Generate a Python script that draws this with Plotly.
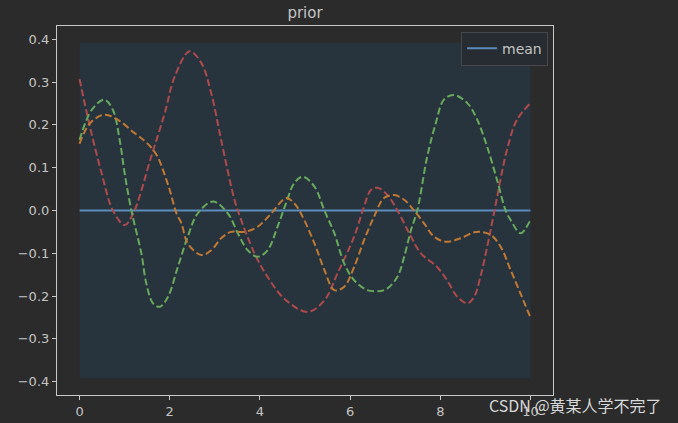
import plotly.graph_objects as go

# ---- data ----
band_x = [0, 10]
band_upper = [0.392, 0.392]
band_lower = [-0.392, -0.392]

mean_x = [0, 10]
mean_y = [0.0, 0.0]

red_x = [0.0, 0.23, 0.49, 0.74, 1.0, 1.19, 1.59, 1.89, 2.11, 2.44, 2.70, 2.92, 3.14, 3.40, 3.51, 3.88, 4.17, 4.54, 5.06, 5.43,
         5.72, 6.09, 6.31, 6.46, 6.61, 6.83, 7.05, 7.35, 7.57, 7.93, 8.15, 8.38, 8.60, 8.75, 8.89, 9.04, 9.19, 9.48, 9.70, 10.0]
red_y = [0.307, 0.196, 0.087, 0.0, -0.034, -0.007, 0.126, 0.228, 0.313, 0.372, 0.345, 0.274, 0.165, 0.040, 0.0, -0.10, -0.155, -0.206, -0.237, -0.21,
         -0.147, -0.061, 0.009, 0.048, 0.053, 0.036, 0.0, -0.061, -0.10, -0.132, -0.163, -0.202, -0.217, -0.202, -0.155, -0.085, -0.007, 0.142, 0.212, 0.251]

green_x = [0.0, 0.27, 0.55, 0.74, 0.89, 1.0, 1.15, 1.37, 1.48, 1.63, 1.78, 1.96, 2.18, 2.40, 2.62, 2.96, 3.29, 3.51, 3.73, 3.95,
           4.17, 4.39, 4.58, 4.76, 4.95, 5.21, 5.43, 5.65, 5.87, 6.09, 6.38, 6.68, 6.83, 7.05, 7.20, 7.35, 7.49, 7.71, 7.90, 8.08,
           8.30, 8.60, 8.82, 9.04, 9.26, 9.45, 9.56, 9.78, 10.0]
green_y = [0.165, 0.235, 0.259, 0.235, 0.165, 0.087, 0.0, -0.10, -0.17, -0.217, -0.225, -0.202, -0.132, -0.061, -0.007, 0.021, -0.007, -0.053, -0.093, -0.108,
           -0.093, -0.038, 0.017, 0.064, 0.079, 0.056, 0.0, -0.053, -0.124, -0.163, -0.186, -0.188, -0.182, -0.155, -0.108, -0.046, 0.0, 0.126, 0.204, 0.259,
           0.270, 0.251, 0.212, 0.149, 0.071, 0.0, -0.022, -0.053, -0.022]

orange_x = [0.0, 0.23, 0.55, 0.85, 1.22, 1.45, 1.60, 1.74, 1.86, 2.0, 2.15, 2.26, 2.40, 2.70, 2.92, 3.14, 3.36, 3.66, 3.95, 4.25, 4.58,
            4.76, 4.91, 5.21, 5.43, 5.65, 5.87, 6.09, 6.31, 6.53, 6.75, 6.98, 7.20, 7.42, 7.64, 7.86, 8.12, 8.45, 8.75, 8.89, 9.12,
            9.34, 9.56, 9.78, 10.0]
orange_y = [0.156, 0.204, 0.224, 0.212, 0.181, 0.162, 0.146, 0.124, 0.092, 0.048, -0.007, -0.03, -0.077, -0.104, -0.093, -0.065, -0.05, -0.05, -0.038, -0.007, 0.029,
            0.017, -0.007, -0.077, -0.139, -0.186, -0.178, -0.132, -0.069, -0.015, 0.029, 0.036, 0.025, 0.0, -0.03, -0.061, -0.073, -0.065, -0.051, -0.05, -0.057,
            -0.085, -0.139, -0.194, -0.25]

x_ticks = [0, 2, 4, 6, 8, 10]
y_ticks = [-0.4, -0.3, -0.2, -0.1, 0.0, 0.1, 0.2, 0.3, 0.4]

BG = "#2b2b2b"
FG = "#c4c4c4"
DASH = "7px,3.2px"

fig = go.Figure()

fig.add_trace(go.Scatter(x=band_x, y=band_upper, mode="lines", line=dict(width=0),
                         showlegend=False, hoverinfo="skip"))
fig.add_trace(go.Scatter(x=band_x, y=band_lower, mode="lines", line=dict(width=0),
                         fill="tonexty", fillcolor="#27343d", showlegend=False, hoverinfo="skip"))

fig.add_trace(go.Scatter(x=mean_x, y=mean_y, mode="lines", name="mean",
                         line=dict(color="#5a8cbc", width=2)))

for xs, ys, col in [(red_x, red_y, "#ae4a4c"), (green_x, green_y, "#68a95c"), (orange_x, orange_y, "#c07832")]:
    fig.add_trace(go.Scatter(x=xs, y=ys, mode="lines", showlegend=False,
                             line=dict(color=col, width=2, dash=DASH, shape="spline", smoothing=1.0)))

fig.update_layout(
    width=678, height=423,
    margin=dict(l=57, r=125, t=26, b=28, autoexpand=False),
    paper_bgcolor=BG, plot_bgcolor=BG,
    font=dict(family="DejaVu Sans", size=13, color=FG),
    title=dict(text="prior", x=(57 + 553) / 2 / 678, xanchor="center", y=1 - 13 / 423, yanchor="middle",
               font=dict(size=15, color=FG)),
    showlegend=True,
    legend=dict(x=0.99, xanchor="right", y=0.985, yanchor="top",
                bgcolor="#262c31", bordercolor="#474747", borderwidth=1,
                font=dict(size=14, color=FG)),
)

fig.update_xaxes(range=[-0.5, 10.5], tickvals=x_ticks, ticktext=[str(t) for t in x_ticks], automargin=False,
                 showgrid=False, zeroline=False, showline=True, linecolor="#c8c8c8", linewidth=1.2,
                 mirror=True, ticks="outside", ticklen=4, tickcolor="#c8c8c8", tickfont=dict(color=FG))
fig.update_yaxes(range=[-0.4312, 0.4312], tickvals=y_ticks, tickformat=".1f", automargin=False,
                 showgrid=False, zeroline=False, showline=True, linecolor="#c8c8c8", linewidth=1.2,
                 mirror=True, ticks="outside", ticklen=4, tickcolor="#c8c8c8", tickfont=dict(color=FG))

fig.add_annotation(text="CSDN @黄某人学不完了", xref="paper", yref="paper",
                   x=(664 - 57) / 496, xanchor="right", y=(395 - 405) / 369, yanchor="middle",
                   showarrow=False, font=dict(family="Noto Sans CJK SC", size=16, color="#d8d8d8"))

fig.write_html("out.html", config={"displayModeBar": False},
               post_script="document.body.style.margin='0';document.body.style.background='#2b2b2b';")
